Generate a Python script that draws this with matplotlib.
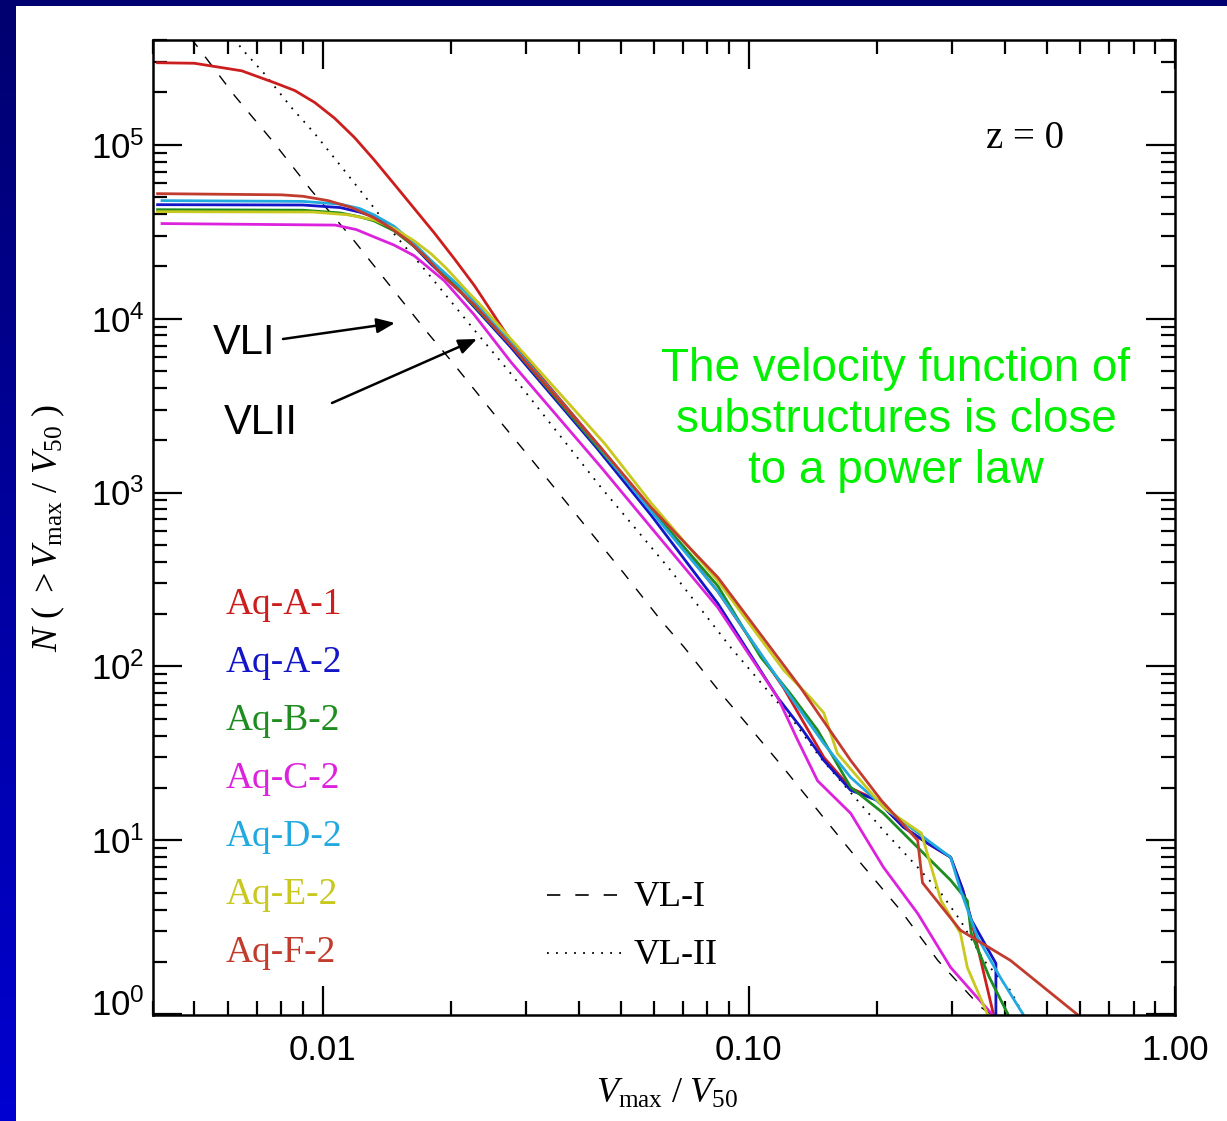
import numpy as np
import matplotlib
matplotlib.use('Agg')
import matplotlib.pyplot as plt
import matplotlib.transforms as mtrans
from matplotlib.ticker import LogLocator, FixedLocator, NullFormatter

plt.rcParams['mathtext.fontset'] = 'custom'
plt.rcParams['mathtext.rm'] = 'Liberation Serif'
plt.rcParams['mathtext.it'] = 'Liberation Serif:italic'
plt.rcParams['mathtext.sf'] = 'Liberation Sans'

# cumulative velocity functions (x = Vmax/V50, y = N(>x))
aqA1_x = [0.0041, 0.005, 0.00646, 0.00772, 0.0086, 0.00958, 0.01067, 0.01188, 0.0132, 0.01475, 0.0164,
          0.0183, 0.0204, 0.0227, 0.0277, 0.045, 0.059, 0.0846, 0.1208, 0.15, 0.1734, 0.2, 0.23, 0.263,
          0.2975, 0.3176, 0.3325, 0.375]
aqA1_y = [2.96e5, 2.94e5, 2.66e5, 2.27e5, 2.05e5, 1.75e5, 1.42e5, 1.1e5, 8.2e4, 5.9e4, 4.3e4,
          3.1e4, 2.2e4, 1.55e4, 7.4e3, 1.8e3, 800, 270, 75, 30, 20, 17, 12, 9.6,
          8.0, 5.2, 3.5, 1.0]

aqA2_x = [0.0041, 0.009, 0.011, 0.0122, 0.0132, 0.0147, 0.0164, 0.018, 0.0195, 0.0212, 0.0277, 0.044,
          0.059, 0.0846, 0.117, 0.133, 0.15, 0.1734, 0.2, 0.2306, 0.263, 0.2975, 0.3176, 0.3325, 0.38, 0.38]
aqA2_y = [4.52e4, 4.5e4, 4.35e4, 4.1e4, 3.85e4, 3.3e4, 2.6e4, 2.05e4, 1.7e4, 1.4e4, 6.8e3, 1.8e3,
          740, 230, 66, 44, 28.8, 19.4, 17, 11.9, 9.6, 8.0, 5.2, 3.5, 1.96, 1.0]

aqB2_x = [0.0041, 0.009, 0.011, 0.0122, 0.0132, 0.0147, 0.0164, 0.018, 0.0195, 0.021, 0.0277, 0.044,
          0.059, 0.0846, 0.1067, 0.125, 0.145, 0.1734, 0.207, 0.249, 0.2975, 0.3256, 0.3325, 0.3668, 0.4055]
aqB2_y = [4.23e4, 4.2e4, 4.05e4, 3.85e4, 3.65e4, 3.2e4, 2.6e4, 2.1e4, 1.75e4, 1.45e4, 7.0e3, 1.85e3,
          800, 290, 113, 70, 43, 20.2, 14.3, 9.1, 5.9, 4.5, 2.92, 1.63, 1.0]

aqC2_x = [0.0042, 0.0107, 0.012, 0.0132, 0.0147, 0.0164, 0.0193, 0.0227, 0.0277, 0.045, 0.059, 0.0846,
          0.117, 0.13, 0.145, 0.1734, 0.207, 0.249, 0.2975, 0.372]
aqC2_y = [3.52e4, 3.45e4, 3.25e4, 2.95e4, 2.65e4, 2.3e4, 1.65e4, 1.05e4, 5.6e3, 1.4e3, 629, 218,
          66, 38, 22, 14.3, 7.0, 3.8, 1.86, 1.0]

aqD2_x = [0.0042, 0.009, 0.011, 0.0122, 0.0132, 0.0147, 0.0164, 0.018, 0.0195, 0.0215, 0.0277, 0.044,
          0.059, 0.0846, 0.1208, 0.15, 0.1734, 0.2114, 0.263, 0.2975, 0.3137, 0.344, 0.389, 0.44]
aqD2_y = [4.77e4, 4.72e4, 4.55e4, 4.3e4, 3.95e4, 3.4e4, 2.7e4, 2.15e4, 1.8e4, 1.45e4, 7.2e3, 1.9e3,
          780, 270, 76, 36, 23, 14.9, 10, 8.0, 5.2, 2.77, 1.63, 1.0]

aqE2_x = [0.0041, 0.0095, 0.0115, 0.0132, 0.0147, 0.0164, 0.018, 0.0195, 0.0215, 0.0236, 0.0277, 0.046,
          0.059, 0.0846, 0.1208, 0.1396, 0.15, 0.1614, 0.207, 0.254, 0.2826, 0.3137, 0.3256, 0.363]
aqE2_y = [4.12e4, 4.1e4, 3.95e4, 3.7e4, 3.3e4, 2.8e4, 2.35e4, 1.95e4, 1.5e4, 1.18e4, 7.6e3, 1.9e3,
          870, 310, 95, 66, 54, 31.6, 15.5, 11, 4.5, 2.92, 1.86, 1.0]

aqF2_x = [0.0041, 0.008, 0.009, 0.0103, 0.0117, 0.0132, 0.0145, 0.0159, 0.0175, 0.019, 0.0227, 0.0277,
          0.045, 0.059, 0.0846, 0.132, 0.1734, 0.2045, 0.249, 0.2556, 0.3137, 0.411, 0.589]
aqF2_y = [5.23e4, 5.15e4, 5.05e4, 4.77e4, 4.35e4, 3.8e4, 3.3e4, 2.8e4, 2.25e4, 1.8e4, 1.2e4, 7.0e3,
          1.8e3, 820, 325, 76, 28.8, 17, 10, 5.7, 3.04, 2.04, 1.0]

vl1_x = [0.0049, 0.00507, 0.00622, 0.00768, 0.00942, 0.0117, 0.0145, 0.0177, 0.02, 0.0263, 0.0309,
         0.041, 0.0506, 0.0622, 0.0705, 0.086, 0.0973, 0.1208, 0.147, 0.183, 0.227, 0.2776, 0.35, 0.37]
vl1_y = [4.1e5, 3.7e5, 1.91e5, 1.03e5, 5.44e4, 2.92e4, 1.51e4, 8.2e3, 5.74e3, 2.5e3, 1.55e3,
         660, 350, 184, 129, 70, 49, 26, 14.3, 7.4, 3.96, 2.04, 1.1, 1.0]

vl2_x = [0.0062, 0.00646, 0.0073, 0.00846, 0.00958, 0.0111, 0.0128, 0.0147, 0.0177, 0.0227, 0.0277,
         0.045, 0.0656, 0.0906, 0.127, 0.147, 0.207, 0.249, 0.2826, 0.3137, 0.356, 0.411, 0.44]
vl2_y = [4.1e5, 3.56e5, 2.56e5, 1.63e5, 1.16e5, 7.4e4, 4.77e4, 3.08e4, 1.81e4, 8.6e3, 4.8e3,
         1.07e3, 356, 129, 49, 30, 11.4, 7.0, 4.96, 3.46, 2.04, 1.37, 1.0]

names = ['Aq-A-1', 'Aq-A-2', 'Aq-B-2', 'Aq-C-2', 'Aq-D-2', 'Aq-E-2', 'Aq-F-2']
colors = ['#cc1e1e', '#1414c8', '#1e8c1e', '#dc22dc', '#22aae0', '#c8c81e', '#c23c2e']
curves = [(aqA1_x, aqA1_y), (aqA2_x, aqA2_y), (aqB2_x, aqB2_y), (aqC2_x, aqC2_y),
          (aqD2_x, aqD2_y), (aqE2_x, aqE2_y), (aqF2_x, aqF2_y)]

fig = plt.figure(figsize=(12.27, 11.21), dpi=100, facecolor='white')

# blue slide frame
bg = fig.add_axes([0, 0, 15 / 1227, 1])
bg.imshow(np.linspace(0, 1, 100).reshape(-1, 1), cmap=matplotlib.colors.LinearSegmentedColormap.from_list(
    'b', ['#000070', '#0000d0']), aspect='auto', extent=[0, 1, 0, 1], origin='upper')
bg.axis('off')
top = fig.add_axes([0, 1 - 6 / 1121, 1, 6 / 1121])
top.set_facecolor('#000070')
top.set_xticks([])
top.set_yticks([])
for s in top.spines.values():
    s.set_visible(False)

ax = fig.add_axes([153 / 1227, 1 - 1015 / 1121, 1022 / 1227, 975 / 1121])
ax.set_xscale('log')
ax.set_yscale('log')

ax.plot(vl1_x, vl1_y, color='black', lw=1.0, linestyle=(0, (8, 9)))
ax.plot(vl2_x, vl2_y, color='black', lw=1.3, linestyle=(0, (1, 4)))
for (cx, cy), c in zip(curves, colors):
    ax.plot(cx, cy, color=c, lw=2.0, solid_joinstyle='round')

ax.set_xlim(0.004, 1.0)
ax.set_ylim(0.99, 4e5)

ax.xaxis.set_major_locator(FixedLocator([0.01, 0.1, 1.0]))
ax.set_xticklabels(['0.01', '0.10', '1.00'], family='Liberation Sans', fontsize=25)
ax.xaxis.set_minor_locator(LogLocator(base=10, subs=np.arange(2, 10), numticks=50))
ax.xaxis.set_minor_formatter(NullFormatter())
yt = [1, 10, 100, 1e3, 1e4, 1e5]
ax.yaxis.set_major_locator(FixedLocator(yt))
ax.set_yticklabels([r'$\mathsf{10^{%d}}$' % i for i in range(6)], fontsize=25)
ax.yaxis.set_minor_locator(LogLocator(base=10, subs=np.arange(2, 10), numticks=50))
ax.yaxis.set_minor_formatter(NullFormatter())
ax.tick_params(which='both', direction='in', top=True, right=True, width=1.6, color='black')
ax.tick_params(which='major', length=21)
ax.tick_params(which='minor', length=10)
ax.tick_params(axis='x', which='major', pad=14)
ax.tick_params(axis='y', which='major', pad=6)
for s in ax.spines.values():
    s.set_linewidth(1.8)

# the bottom label sits a bit above its tick in the original
lab0 = ax.yaxis.get_major_ticks()[0].label1
lab0.set_transform(lab0.get_transform() + mtrans.ScaledTranslation(0, 0.12, fig.dpi_scale_trans))

fig.text(667 / 1227, 1 - 1093 / 1121, r'$V_{\rm max}\ /\ V_{50}$', fontsize=26, ha='center', va='center')
fig.text(48 / 1227, 1 - 528 / 1121, r'$N\ (\ >V_{\rm max}\ /\ V_{50}\ )$', fontsize=26,
         ha='center', va='center', rotation=90)


def axpos(px, py):
    return (px - 153) / 1022, (1015 - py) / 975


ax.text(*axpos(1025, 138), 'z = 0', transform=ax.transAxes, family='Liberation Serif',
        fontsize=28, ha='center', va='center')

for i, (n, c) in enumerate(zip(names, colors)):
    ax.text(*axpos(226, 605 + 58 * i), n, transform=ax.transAxes, family='Liberation Serif',
            fontsize=27, color=c, ha='left', va='center')

# line-style key
ax.plot([axpos(547, 0)[0], axpos(625, 0)[0]], [axpos(0, 895)[1]] * 2, transform=ax.transAxes,
        color='black', lw=1.2, linestyle=(0, (8, 9)))
ax.plot([axpos(547, 0)[0], axpos(625, 0)[0]], [axpos(0, 953)[1]] * 2, transform=ax.transAxes,
        color='black', lw=1.3, linestyle=(0, (1, 4)))
ax.text(*axpos(634, 897), 'VL-I', transform=ax.transAxes, family='Liberation Serif',
        fontsize=26, ha='left', va='center')
ax.text(*axpos(634, 955), 'VL-II', transform=ax.transAxes, family='Liberation Serif',
        fontsize=26, ha='left', va='center')

ax.text(*axpos(244, 343), 'VLI', transform=ax.transAxes, family='Liberation Sans',
        fontsize=30, ha='center', va='center')
ax.text(*axpos(261, 423), 'VLII', transform=ax.transAxes, family='Liberation Sans',
        fontsize=30, ha='center', va='center')
arrow = dict(arrowstyle='-|>,head_length=1.1,head_width=0.45', color='black', lw=1.8,
             shrinkA=0, shrinkB=0)
ax.annotate('', xy=axpos(395, 323), xytext=axpos(283, 339), xycoords='axes fraction',
            textcoords='axes fraction', arrowprops=arrow)
ax.annotate('', xy=axpos(477, 339), xytext=axpos(332, 403), xycoords='axes fraction',
            textcoords='axes fraction', arrowprops=arrow)

ax.text(*axpos(896, 420), 'The velocity function of\nsubstructures is close\nto a power law',
        transform=ax.transAxes, family='Liberation Sans', fontsize=33, color='#00f000',
        ha='center', va='center', linespacing=1.21)

fig.savefig('out.png', dpi=100, facecolor='white')
